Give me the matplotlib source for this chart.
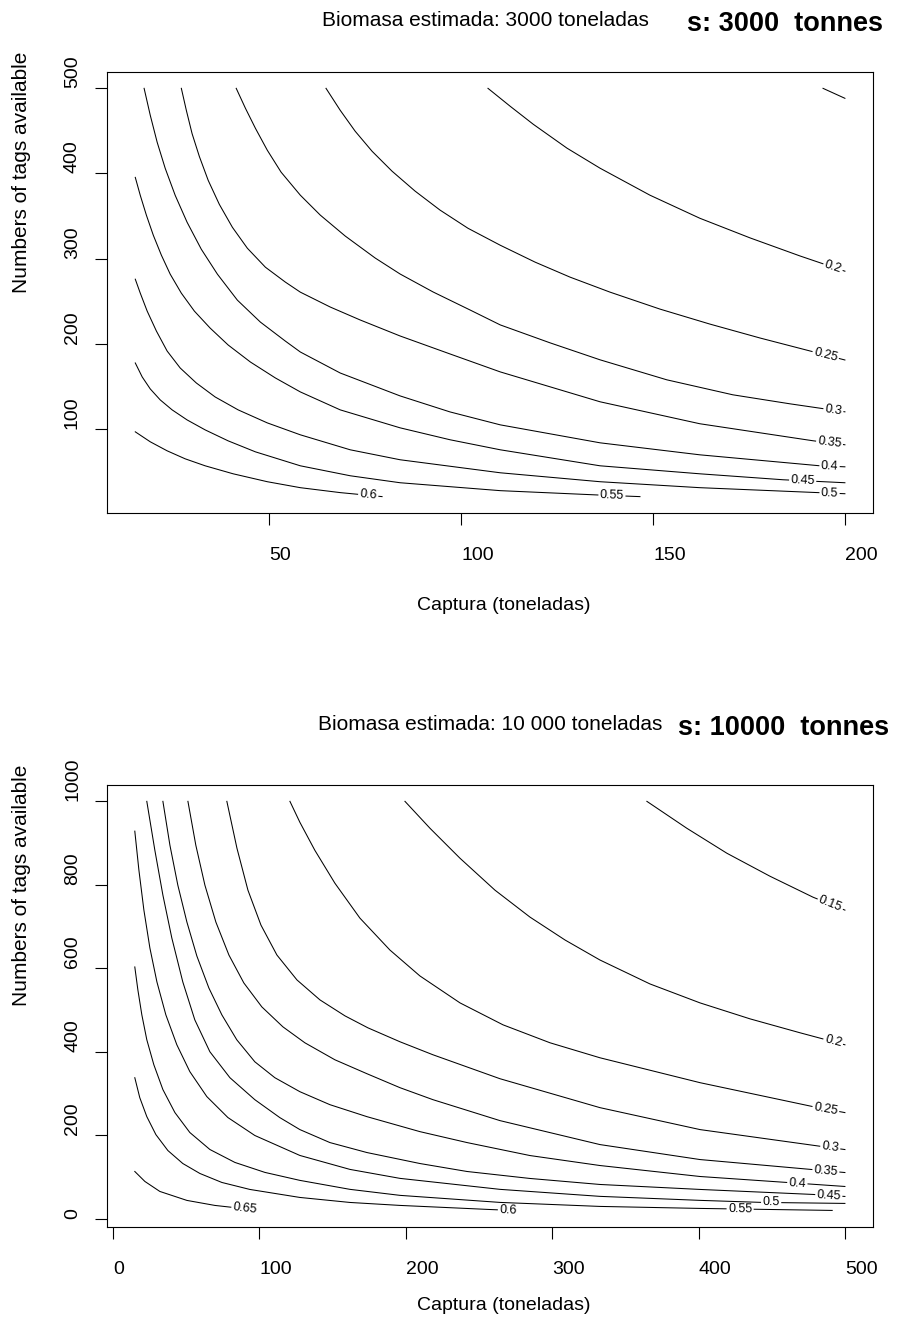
import numpy as np
import matplotlib
matplotlib.use('Agg')
import matplotlib.pyplot as plt

plt.rcParams['font.family'] = ['Liberation Sans', 'DejaVu Sans']

# ---- data (catch in tonnes, tags available) ----
levels_3000 = ['0.15', '0.2', '0.25', '0.3', '0.35', '0.4', '0.45', '0.5', '0.55', '0.6']
catch_3000 = [
    [194.3, 200],
    [107.0, 112.8, 118.8, 127.6, 136.2, 149.2, 162.2, 175.3, 188.3, 200],
    [64.8, 68.5, 72.4, 76.8, 82.0, 88.0, 94.5, 101.8, 110.2, 119.3, 128.4, 138.8, 151.8, 164.8, 177.9, 190.9, 200],
    [41.4, 43.8, 46.4, 49.5, 53.1, 58.1, 63.3, 69.8, 77.6, 84.1, 92.7, 102.3, 110.2, 123.2, 136.2, 153.6, 170.8, 185.7, 200],
    [27.1, 28.4, 29.9, 31.8, 34.1, 37.0, 40.4, 44.3, 49.0, 54.2, 58.1, 65.9, 73.7, 84.1, 97.1, 110.2, 136.2, 162.2, 191.7, 200],
    [17.4, 19.0, 20.8, 22.9, 25.5, 28.6, 32.3, 36.5, 41.7, 47.7, 54.2, 58.1, 68.5, 84.1, 97.1, 110.2, 136.2, 162.2, 193.5, 200],
    [15.1, 16.4, 18.0, 19.8, 21.9, 24.2, 27.1, 30.5, 34.6, 39.3, 45.1, 51.6, 58.1, 68.5, 84.1, 97.1, 110.2, 136.2, 162.2, 183.9, 200],
    [15.1, 16.4, 18.2, 20.6, 23.4, 26.8, 31.0, 35.9, 41.9, 49.5, 58.1, 71.1, 84.1, 110.2, 136.2, 162.2, 193.0, 200],
    [15.1, 16.9, 19.0, 21.6, 24.7, 28.6, 33.3, 39.3, 46.4, 58.1, 71.1, 84.1, 110.2, 136.2, 146.6],
    [15.1, 19.0, 23.4, 28.1, 33.3, 40.6, 49.5, 58.1, 68.5, 79.4],
]
tags_3000 = [
    [500, 488.3],
    [500, 478.9, 457.8, 429.7, 406.2, 374.5, 347.4, 324.3, 303.1, 285.2],
    [500, 474.2, 449.6, 426.1, 402.7, 379.3, 357.0, 335.6, 315.7, 295.8, 278.2, 260.6, 240.7, 223.1, 206.7, 191.5, 180.9],
    [500, 476.6, 453.1, 427.3, 401.5, 374.5, 351.1, 326.5, 300.7, 281.9, 260.8, 239.7, 222.1, 201.0, 181.1, 157.6, 140.0, 129.4, 120.0],
    [500, 474.2, 446.8, 419.9, 391.9, 363.7, 336.8, 312.2, 289.9, 272.4, 260.6, 243.1, 227.9, 209.1, 188.0, 166.9, 131.8, 106.0, 86.0, 81.3],
    [500, 468.4, 436.7, 406.0, 374.3, 342.7, 311.0, 281.7, 251.2, 225.4, 203.1, 190.3, 165.6, 138.7, 119.9, 104.7, 83.6, 69.5, 56.6, 55.4],
    [395.4, 374.3, 350.9, 327.4, 304.0, 281.7, 259.4, 238.3, 218.4, 198.5, 178.5, 159.8, 143.4, 122.3, 101.2, 87.2, 75.4, 56.6, 47.2, 40.2, 36.7],
    [275.8, 259.4, 238.3, 214.9, 191.4, 171.5, 153.9, 137.5, 122.3, 107.0, 93.0, 75.4, 63.7, 48.4, 37.9, 30.9, 25.1, 23.8],
    [177.4, 161.0, 146.9, 134.0, 122.3, 110.5, 98.8, 85.9, 73.0, 56.6, 44.9, 36.7, 27.4, 22.2, 20.4],
    [96.5, 84.8, 74.2, 64.8, 56.6, 47.2, 37.9, 30.9, 25.1, 20.4],
]
label_at_3000 = [None, 196.9, 195, 197, 196, 196, 189, 196, 139.3, 75.8]

levels_10000 = ['0.15', '0.2', '0.25', '0.3', '0.35', '0.4', '0.45', '0.5', '0.55', '0.6', '0.65']
catch_10000 = [
    [364.7, 392.0, 419.4, 448.8, 478.2, 500],
    [199.4, 216.5, 237.0, 260.9, 284.8, 308.8, 332.6, 366.8, 401.0, 435.2, 469.4, 500],
    [120.8, 127.6, 137.8, 151.5, 168.6, 189.1, 209.6, 237.0, 266.4, 298.5, 332.6, 401.0, 478.2, 500],
    [77.7, 84.6, 92.1, 101.0, 111.9, 125.6, 141.3, 158.4, 174.1, 196.0, 218.5, 264.3, 332.6, 401.0, 484.4, 500],
    [51.1, 56.5, 62.7, 70.2, 79.1, 89.3, 101.6, 116.0, 131.0, 151.5, 173.4, 196.0, 218.5, 264.3, 332.6, 401.0, 477.5, 500],
    [34.0, 38.8, 44.2, 50.4, 57.2, 65.4, 74.3, 84.5, 96.8, 110.5, 127.6, 148.1, 173.4, 209.6, 241.8, 284.8, 332.6, 401.0, 460.4, 500],
    [23.0, 28.5, 34.0, 40.1, 47.6, 55.8, 66.1, 79.8, 96.8, 113.9, 127.6, 148.1, 173.4, 209.6, 241.8, 284.8, 332.6, 401.0, 478.2, 500],
    [14.8, 17.6, 21.0, 25.1, 29.9, 36.0, 43.5, 52.4, 64.0, 78.4, 96.8, 127.6, 161.8, 196.0, 264.3, 332.6, 401.0, 443.4, 500],
    [14.8, 16.9, 19.6, 23.0, 27.8, 34.0, 42.2, 52.4, 66.1, 83.2, 103.7, 127.6, 161.8, 196.0, 264.3, 332.6, 401.0, 491.3],
    [14.8, 18.2, 23.0, 29.2, 37.4, 47.6, 59.3, 74.3, 93.4, 127.6, 161.8, 196.0, 256.1, 272.5],
    [14.8, 21.7, 31.9, 50.4, 69.5, 81.8, 98.9],
]
tags_10000 = [
    [1000, 935.5, 875.6, 820.6, 770.4, 739.4],
    [1000, 935.5, 863.7, 787.2, 722.7, 667.7, 619.9, 562.5, 517.1, 478.8, 445.4, 416.7],
    [1000, 949.8, 882.9, 804.0, 720.3, 643.8, 581.7, 517.1, 464.5, 421.5, 385.6, 325.9, 268.5, 254.2],
    [1000, 887.6, 787.2, 703.5, 631.8, 572.1, 524.3, 486.0, 457.3, 423.9, 392.8, 335.4, 266.1, 213.5, 172.9, 165.7],
    [1000, 894.8, 799.2, 710.7, 631.8, 564.9, 507.5, 459.7, 421.5, 380.8, 347.4, 313.9, 285.2, 235.0, 177.6, 141.7, 117.8, 110.6],
    [1000, 894.8, 799.2, 710.7, 629.4, 552.9, 488.3, 428.6, 376.0, 337.8, 304.3, 273.2, 244.5, 208.6, 182.4, 151.3, 127.4, 101.1, 86.8, 77.2],
    [1000, 882.9, 775.3, 672.5, 567.3, 476.5, 400.0, 337.8, 285.2, 242.2, 213.5, 182.4, 158.5, 132.2, 113.1, 96.4, 82.0, 70.1, 58.1, 53.3],
    [928.6, 835.3, 739.7, 648.8, 567.5, 488.6, 416.9, 352.4, 292.6, 242.4, 199.4, 151.5, 118.1, 96.6, 70.3, 53.5, 43.9, 39.0, 36.6],
    [603.2, 548.2, 488.6, 428.8, 369.0, 309.3, 254.3, 206.5, 165.8, 134.8, 110.9, 91.8, 70.3, 55.9, 39.0, 29.4, 24.6, 19.8],
    [337.8, 290.0, 244.6, 201.5, 163.3, 132.2, 108.3, 86.8, 70.1, 50.9, 38.9, 31.8, 22.2, 19.8],
    [113.1, 89.2, 65.3, 43.8, 31.8, 27.0, 19.8],
]
label_at_10000 = [490, 492, 487, 490, 487, 467.5, 489, 449.6, 428.4, 269.8, 90]

W, H = 898, 1334


def fx(px):
    return px / W


def fy(py):
    return 1 - py / H


fig = plt.figure(figsize=(W / 100, H / 100), dpi=100)
renderer = fig.canvas.get_renderer()


def contour_line(ax, xs, ys, label, lab_x):
    xs = np.asarray(xs, float)
    ys = np.asarray(ys, float)
    if lab_x is None:
        ax.plot(xs, ys, color='black', lw=0.75)
        return
    disp = ax.transData.transform(np.column_stack([xs, ys]))
    i = int(np.clip(np.searchsorted(xs, lab_x) - 1, 0, len(xs) - 2))
    dx, dy = disp[i + 1] - disp[i]
    ang = np.degrees(np.arctan2(dy, dx))
    ly = np.interp(lab_x, xs, ys)
    t = ax.text(lab_x, ly, label, fontsize=9, ha='center', va='center',
                rotation_mode='anchor')
    tw = t.get_window_extent(renderer).width
    t.set_rotation(ang)
    px_per_x = ax.transData.transform((1, 0))[0] - ax.transData.transform((0, 0))[0]
    half = (tw / 2 + 2) * np.cos(np.radians(ang)) / px_per_x
    x0, x1 = lab_x - half, lab_x + half
    left = xs < x0
    if left.any():
        ax.plot(np.append(xs[left], x0), np.append(ys[left], np.interp(x0, xs, ys)),
                color='black', lw=0.75)
    right = xs > x1
    if right.any():
        ax.plot(np.insert(xs[right], 0, x1), np.insert(ys[right], 0, np.interp(x1, xs, ys)),
                color='black', lw=0.75)


def setup_axes(box, xlim, ylim, xticks, yticks):
    left, top, right, bottom = box
    ax = fig.add_axes([fx(left), fy(bottom), fx(right) - fx(left), fy(top) - fy(bottom)])
    ax.set_xlim(*xlim)
    ax.set_ylim(*ylim)
    ax.set_xticks(xticks)
    ax.set_xticklabels([str(v) for v in xticks], ha='left')
    ax.set_yticks(yticks)
    ax.set_yticklabels([str(v) for v in yticks], rotation=90, va='bottom')
    ax.tick_params(direction='out', length=8.5, width=0.8, labelsize=14, colors='black')
    ax.tick_params(axis='x', pad=16)
    ax.tick_params(axis='y', pad=10)
    for s in ax.spines.values():
        s.set_linewidth(0.8)
    return ax


def titles(box, es_text, en_text, es_y, en_y, es_left, en_right, xlabel_y):
    left, top, right, bottom = box
    fig.text(fx(en_right), fy(en_y), en_text, fontsize=19.5, fontweight='bold', ha='right', va='center')
    fig.text(fx(es_left), fy(es_y), es_text, fontsize=15, ha='left', va='center')
    fig.text(fx(22), fy((top + bottom) / 2), 'Numbers of tags available', fontsize=15,
             rotation=90, ha='center', va='bottom')
    fig.text(fx(504), fy(xlabel_y), 'Captura (toneladas)', fontsize=14, ha='center', va='center')


box1 = (106.5, 72, 873.3, 513.3)
box2 = (106.7, 785, 873.3, 1226.7)

# ---- panel 1: 3000 t ----
ax1 = setup_axes(box1, (7.6, 207.4), (0.8, 519.2),
                 [50, 100, 150, 200], [100, 200, 300, 400, 500])
for xs, ys, lab, lx in zip(catch_3000, tags_3000, levels_3000, label_at_3000):
    contour_line(ax1, xs, ys, lab, lx)
titles(box1, 'Biomasa estimada: 3000 toneladas', 's: 3000  tonnes',
       20, 24, 322, 883, 605)

# ---- panel 2: 10 000 t ----
ax2 = setup_axes(box2, (-4.4, 519.4), (-19.2, 1039.2),
                 [0, 100, 200, 300, 400, 500], [0, 200, 400, 600, 800, 1000])
for xs, ys, lab, lx in zip(catch_10000, tags_10000, levels_10000, label_at_10000):
    contour_line(ax2, xs, ys, lab, lx)
titles(box2, 'Biomasa estimada: 10 000 toneladas', 's: 10000  tonnes',
       724, 728, 318, 889, 1306)

fig.savefig('out.png', dpi=100)
